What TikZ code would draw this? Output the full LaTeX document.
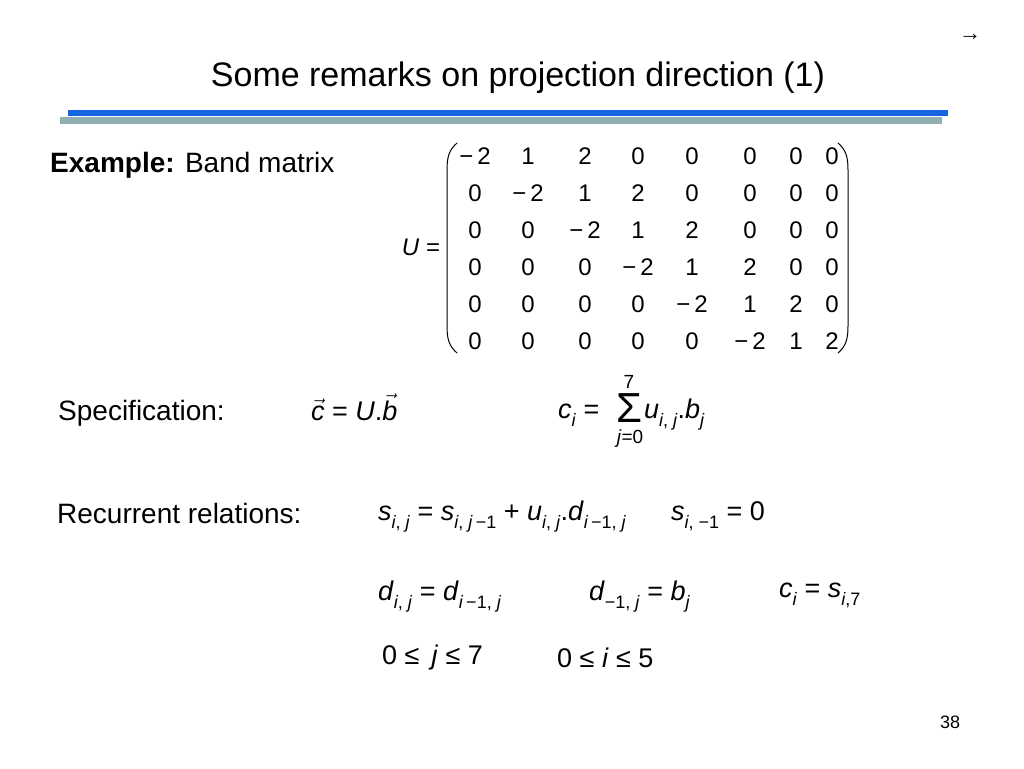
\documentclass[tikz,border=0pt]{standalone}
\usepackage{fontspec}
\setmainfont{Liberation Sans}
\definecolor{barblue}{RGB}{22,102,228}
\definecolor{bargray}{RGB}{143,175,178}
\tikzset{x=1pt, y=-1pt, every node/.style={inner sep=0pt, anchor=base west},
  title/.style={anchor=base, font=\fontsize{34}{40}\selectfont},
  lbl/.style={font=\fontsize{28}{32}\selectfont},
  eqn/.style={font=\fontsize{27}{30}\selectfont},
  ent/.style={anchor=base, font=\fontsize{24}{28}\selectfont},
  lim/.style={anchor=base, font=\fontsize{19}{20}\selectfont},
  paren/.style={line width=1pt, line cap=round}}
\newcommand\vv[1]{\textit{#1}}
\newcommand\dn[1]{\raisebox{-0.3em}{\fontsize{18}{18}\selectfont #1}}

\begin{document}
\begin{tikzpicture}
  \useasboundingbox (0,0) rectangle (1024,768);
  % title and bars
  \node[title] (title) at (518,86) {Some remarks on projection direction (1)};
  \node[anchor=center, font=\fontsize{22}{22}\selectfont] (next) at (970,37) {→};
  \fill[bargray] (60,117) rectangle (942,124);
  \fill[barblue] (68,110) rectangle (948,116);
  % band matrix
  \node[lbl] (ex) at (50,172) {\textbf{Example:} Band matrix};
  \node[ent] (U) at (421,255) {\vv{U} =};
  \foreach \row [count=\r] in {{−\,2,1,2,0,0,0,0,0},{0,−\,2,1,2,0,0,0,0},{0,0,−\,2,1,2,0,0,0},
                              {0,0,0,−\,2,1,2,0,0},{0,0,0,0,−\,2,1,2,0},{0,0,0,0,0,−\,2,1,2}}
    \foreach \v [count=\c] in \row {
      \pgfmathsetmacro\cx{{475,528,585,638,692,750,796,832}[\c-1]}
      \node[ent] (m-\r-\c) at (\cx,127+37*\r) {\v};
    }
  \draw[paren] (457,143) .. controls (449,150) and (447,157) .. (447,170) -- (447,326)
               .. controls (447,339) and (449,346) .. (457,353);
  \draw[paren] (838,143) .. controls (846,150) and (848,157) .. (848,170) -- (848,326)
               .. controls (848,339) and (846,346) .. (838,353);
  % specification
  \node[lbl] (spec) at (58,420) {Specification:};
  \node[eqn] (cvec) at (311,420) {$\vec{\mbox{\vv{c}}}$ = \vv{U}.$\vec{\mbox{\vv{b}}}$};
  \node[eqn] (ci) at (558,418) {\vv{c}\dn{\vv{i}} =};
  \node[eqn, font=\fontsize{42}{44}\selectfont] (sig) at (616,422) {Σ};
  \node[lim] (top) at (629,388) {7};
  \node[lim] (bot) at (630,443) {\vv{j}=0};
  \node[eqn] (uij) at (644,418) {\vv{u}\dn{\vv{i}, \vv{j}}.\vv{b}\dn{\vv{j}}};
  % recurrent relations
  \node[lbl] (rec) at (57,523) {Recurrent relations:};
  \node[eqn] (s1) at (378,520) {\vv{s}\dn{\vv{i}, \vv{j}} = \vv{s}\dn{\vv{i}, \vv{j}\,−1} + \vv{u}\dn{\vv{i}, \vv{j}}.\vv{d}\dn{\vv{i}\,−1, \vv{j}}};
  \node[eqn] (s0) at (671,520) {\vv{s}\dn{\vv{i}, −1} = 0};
  \node[eqn] (d1) at (378,600) {\vv{d}\dn{\vv{i}, \vv{j}} = \vv{d}\dn{\vv{i}\,−1, \vv{j}}};
  \node[eqn] (d0) at (589,600) {\vv{d}\dn{−1, \vv{j}} = \vv{b}\dn{\vv{j}}};
  \node[eqn] (cs) at (779,597) {\vv{c}\dn{\vv{i}} = \vv{s}\dn{\vv{i},7}};
  \node[eqn] (jr) at (382,664) {0 ≤ \,\vv{j} ≤ 7};
  \node[eqn] (ir) at (557,667) {0 ≤ \vv{i} ≤ 5};
  \node[font=\fontsize{18}{20}\selectfont] (pg) at (940,728) {38};
\end{tikzpicture}
\end{document}
